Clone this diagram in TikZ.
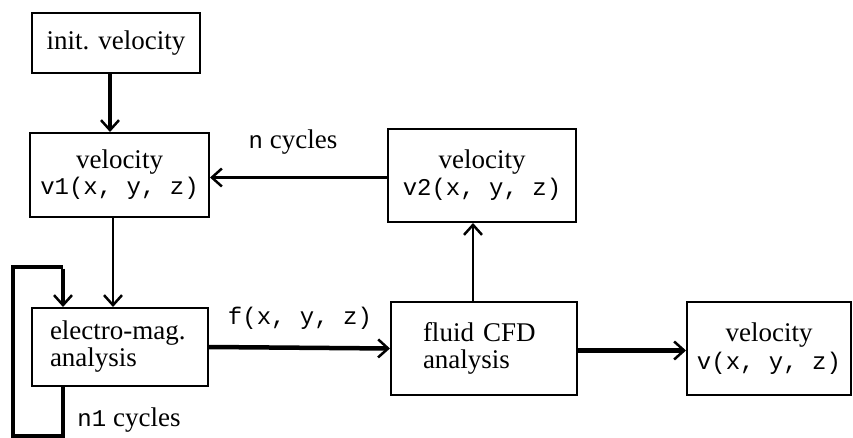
\documentclass[tikz,border=0pt]{standalone}
\usepackage{fontspec}
\setmainfont{Liberation Serif}
\setmonofont{Liberation Mono}
\usetikzlibrary{arrows.meta}
\newcommand{\txtfont}{\fontsize{27}{30}\selectfont}
\newcommand{\code}[1]{{\fontsize{24}{30}\selectfont\ttfamily #1}}
\begin{document}
\begin{tikzpicture}[x=1pt,y=-1pt,
  box/.style={draw,line width=2pt,inner sep=0pt,font=\txtfont},
  flow/.style={line width=#1,-{Straight Barb[length=10pt,width=18pt,line width=2.5pt]}},
  flow/.default=3pt,
  lbl/.style={font=\txtfont,inner sep=0pt}]
\useasboundingbox (0,0) rectangle (853,438);

% boxes
\node[box,minimum width=168pt,minimum height=60pt] (init) at (116,43) {init. velocity};
\node[box,minimum width=179pt,minimum height=84pt,align=center] (v1) at (119.5,175)
  {velocity\\[-4pt]\code{v1(x, y, z)}};
\node[box,minimum width=188pt,minimum height=93pt,align=center] (v2) at (482,175.5)
  {velocity\\[-3pt]\code{v2(x, y, z)}};
\node[box,minimum width=176pt,minimum height=78pt,text width=140pt,align=left] (em) at (120,347)
  {electro-mag.\\[-3pt]analysis};
\node[box,minimum width=186pt,minimum height=93pt,text width=122pt,align=left] (fluid) at (484,348.5)
  {fluid CFD\\[-3pt]analysis};
\node[box,minimum width=164pt,minimum height=93pt,align=center] (v) at (769,348.5)
  {velocity\\[-2pt]\code{v(x, y, z)}};

% feedback loop round the electro-magnetic step
\coordinate (lp1) at (63,436);
\coordinate (lp2) at (13,436);
\coordinate (lp3) at (13,267);
\coordinate (lp4) at (63,267);

% connectors
\draw[flow=4pt] ([xshift=-6pt]init.south) -- ([xshift=-6pt]init.south |- v1.north);
\draw[flow=2.5pt] ([xshift=-6.5pt]v1.south) -- ([xshift=-6.5pt]v1.south |- em.north);
\draw[line width=4pt] (em.south -| lp1) -- (lp1) -- (lp2) -- (lp3) -- (lp4);
\draw[flow=4pt] ([yshift=-1.5pt]lp4) -- (lp4 |- em.north);
\draw[flow=4.5pt] (em.east) -- (fluid.west);
\draw[flow=2.5pt] ([xshift=-11pt]fluid.north) -- ([xshift=-11pt]fluid.north |- v2.south);
\draw[flow=3pt] ([yshift=-2pt]v2.west) -- ([yshift=-2pt]v2.west -| v1.east);
\draw[flow=4.5pt] ([yshift=-2pt]fluid.east) -- ([yshift=-2pt]fluid.east -| v.west);

% connector labels
\node[lbl] (ncyc) at (293,142) {\code{n} cycles};
\node[lbl] (fxyz) at (300,318) {\code{f(x, y, z)}};
\node[lbl] (n1cyc) at (129,420) {\code{n1} cycles};
\end{tikzpicture}
\end{document}
